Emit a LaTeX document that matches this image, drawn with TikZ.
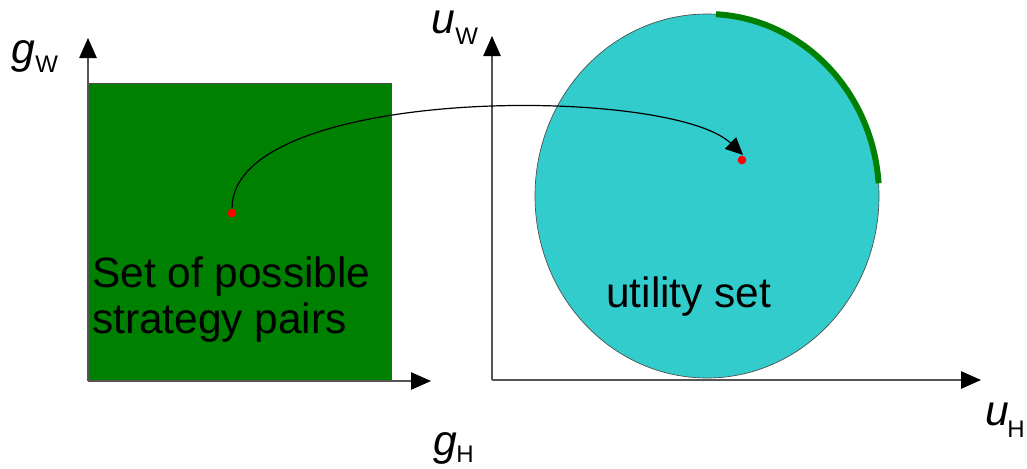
\documentclass[tikz,border=0pt]{standalone}
\usepackage{fontspec}
\setmainfont{Liberation Sans}
\usetikzlibrary{arrows.meta}
\definecolor{boxgreen}{HTML}{008000}
\definecolor{setcyan}{HTML}{33CCCC}
\definecolor{axisgray}{HTML}{555555}
\begin{document}
\begin{tikzpicture}[x=0.75pt,y=-0.75pt,
  axis/.style={draw=axisgray,line width=1.1pt,-{Triangle[length=15pt,width=13pt,black]}},
  bigtext/.style={font=\fontsize{31.8}{36}\selectfont,inner sep=0pt,anchor=base west},
  varlab/.style={font=\fontsize{32}{35}\selectfont\itshape,inner sep=0pt,anchor=base west},
  sublab/.style={font=\fontsize{18}{18}\selectfont,inner sep=0pt,anchor=base west},
  reddot/.style={circle,fill=red,inner sep=0pt,minimum size=6.5pt}]
\useasboundingbox (0,0) rectangle (1027,468);
% strategy set
\fill[boxgreen,draw=black!70,line width=0.5pt] (88,83) rectangle (391,381);
% left axes
\coordinate (lo) at (88,381);
\coordinate (ly) at (88,38);
\coordinate (lx) at (431,381);
\draw[axis] (lo) -- (ly);
\draw[axis] (lo) -- (lx);
% utility set
\fill[setcyan,draw=black!70,line width=0.5pt] (707,196) ellipse [x radius=172,y radius=182];
\draw[boxgreen,line width=4.5pt] (707,196) ++(-87:172 and 182) arc [start angle=-87,end angle=-4,x radius=172,y radius=182];
% right axes
\coordinate (ro) at (492,380);
\coordinate (ry) at (492,36);
\coordinate (rx) at (981,380);
\draw[axis] (ro) -- (ry);
\draw[axis] (ro) -- (rx);
% dots and mapping arrow
\node[reddot] (p) at (232,213) {};
\node[reddot] (q) at (742,160) {};
\coordinate (qt) at (743,155);
\draw[line width=0.9pt,-{Triangle[length=13pt,width=12pt]}] (p.north) .. controls (232,85) and (670,85) .. (qt);
% texts
\node[bigtext] (t1) at (92,287) {Set of possible};
\node[bigtext] (t2) at (92,333) {strategy pairs};
\node[bigtext] (t3) at (606,307) {utility set};
% axis labels
\node[varlab] (gw) at (11,63) {g};
\node[sublab] (gws) at (35,72) {W};
\node[varlab] (uw) at (431,33) {u};
\node[sublab] (uws) at (455,44) {W};
\node[varlab] (gh) at (433,455) {g};
\node[sublab] (ghs) at (456,462) {H};
\node[varlab] (uh) at (985,425) {u};
\node[sublab] (uhs) at (1007,437) {H};
\end{tikzpicture}
\end{document}
